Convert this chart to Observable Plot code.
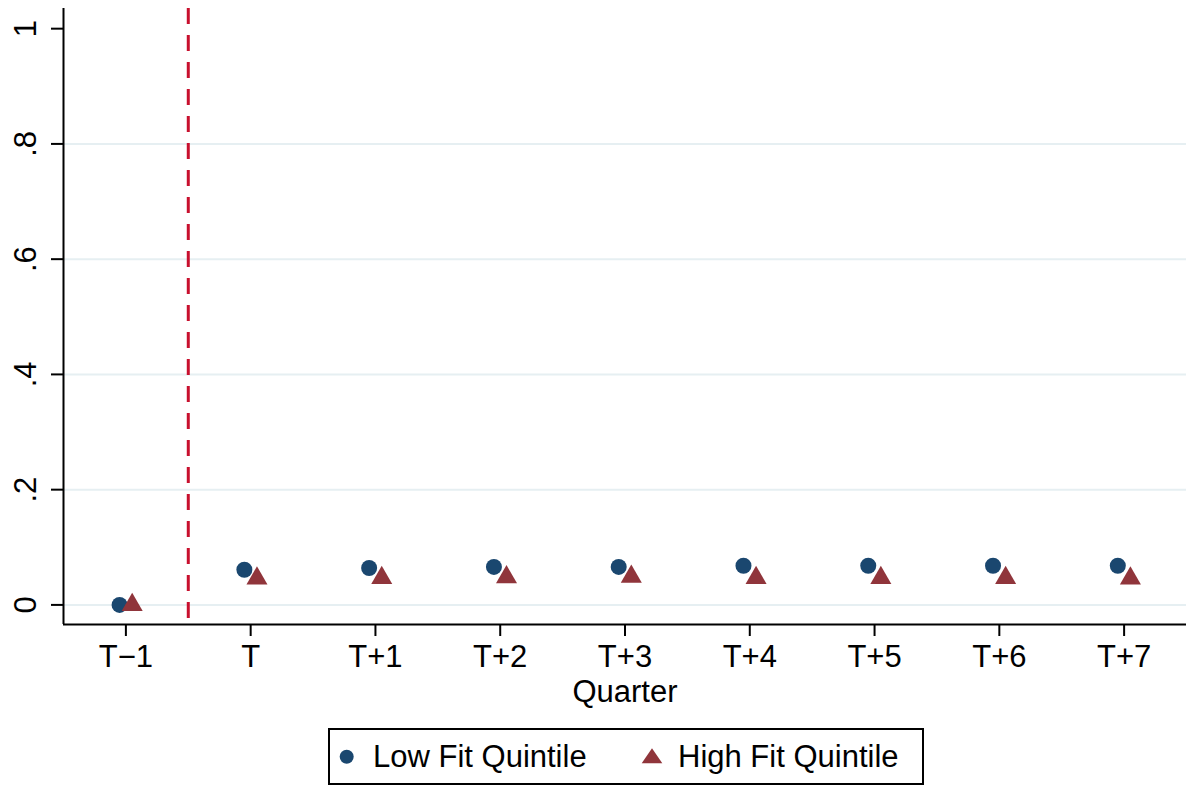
<!DOCTYPE html>
<html>
<head>
<meta charset="utf-8">
<script src="https://cdn.jsdelivr.net/npm/d3@7"></script>
<script src="https://cdn.jsdelivr.net/npm/@observablehq/plot@0.6"></script>
<style>
  html, body { margin: 0; padding: 0; background: #fff; }
  #wrap { position: relative; width: 1186px; height: 786px; font-family: "Liberation Sans", Arial, sans-serif; }
  #legend { position: absolute; left: 328px; top: 728px; }
</style>
</head>
<body>
<div id="wrap">
  <div id="chart"></div>
  <div id="legend"></div>
</div>
<script>
// ---- data ----
const quarters = ["T\u22121", "T", "T+1", "T+2", "T+3", "T+4", "T+5", "T+6", "T+7"];
const quarterIndex = [-1, 0, 1, 2, 3, 4, 5, 6, 7];
const lowFit  = [0.000, 0.061, 0.064, 0.066, 0.066, 0.068, 0.068, 0.068, 0.068];
const highFit = [0.000, 0.046, 0.047, 0.048, 0.049, 0.047, 0.047, 0.047, 0.046];
const yTicks = [0, 0.2, 0.4, 0.6, 0.8, 1];
const yTickLabels = ["0", ".2", ".4", ".6", ".8", "1"];
const gridTicks = [0, 0.2, 0.4, 0.6, 0.8];
const eventLine = [-0.5];
const seriesNames = ["Low Fit Quintile", "High Fit Quintile"];

const xDomain = [-1.5, 7.5];
const yDomain = [-0.034, 1.035];

const navy = "#1a476f";
const maroon = "#90353b";
const font = "Liberation Sans, Arial, sans-serif";

const lowData = quarterIndex.map((q, i) => ({q, v: lowFit[i]}));
const highData = quarterIndex.map((q, i) => ({q, v: highFit[i]}));
const yLab = yTicks.map((v, i) => ({v, label: yTickLabels[i]}));

const chart = Plot.plot({
  width: 1186,
  height: 712,
  marginLeft: 63,
  marginRight: 0,
  marginTop: 8,
  marginBottom: 88,
  style: {fontFamily: font, background: "#fff", overflow: "visible", color: "#000"},
  x: {domain: xDomain},
  y: {domain: yDomain},
  marks: [
    Plot.gridY(gridTicks, {stroke: "#e6eff2", strokeOpacity: 1, strokeWidth: 2}),
    Plot.ruleX(eventLine, {stroke: "#c8102e", strokeWidth: 3, strokeDasharray: "16,11"}),
    Plot.axisX({ticks: quarterIndex, tickFormat: (d) => quarters[quarterIndex.indexOf(d)],
      tickSize: 12, tickPadding: 8, fontSize: 31, strokeWidth: 2, label: null}),
    Plot.axisY({ticks: yTicks, tickFormat: () => "", tickSize: 12, strokeWidth: 2, label: null}),
    Plot.text(yLab, {y: "v", text: "label", frameAnchor: "left", rotate: -90,
      textAnchor: "middle", lineAnchor: "bottom", dx: -28, fontSize: 31}),
    Plot.text(["Quarter"], {frameAnchor: "bottom", lineAnchor: "bottom", dy: 77, fontSize: 31}),
    Plot.ruleX([xDomain[0]], {stroke: "#000", strokeWidth: 2}),
    Plot.ruleY([yDomain[0]], {stroke: "#000", strokeWidth: 2}),
    Plot.dot(lowData, {x: "q", y: "v", r: 8, fill: navy, symbol: "circle", dx: -6.3}),
    Plot.dot(highData, {x: "q", y: "v", r: 7.8, fill: maroon, symbol: "triangle", dx: 6.3})
  ]
});
document.getElementById("chart").appendChild(chart);

// ---- legend ----
const lg = d3.select("#legend").append("svg")
  .attr("width", 596).attr("height", 57)
  .style("display", "block")
  .style("font-family", font);
lg.append("rect").attr("x", 1).attr("y", 1).attr("width", 594).attr("height", 55)
  .attr("fill", "#fff").attr("stroke", "#000").attr("stroke-width", 2);
lg.append("circle").attr("cx", 18.7).attr("cy", 28.7).attr("r", 7).attr("fill", navy);
lg.append("text").attr("x", 45).attr("y", 38.7).attr("font-size", 31).text(seriesNames[0]);
lg.append("path").attr("d", "M313.7,35.3L334.3,35.3L324,20.3Z").attr("fill", maroon);
lg.append("text").attr("x", 350).attr("y", 38.7).attr("font-size", 31).text(seriesNames[1]);
</script>
</body>
</html>
